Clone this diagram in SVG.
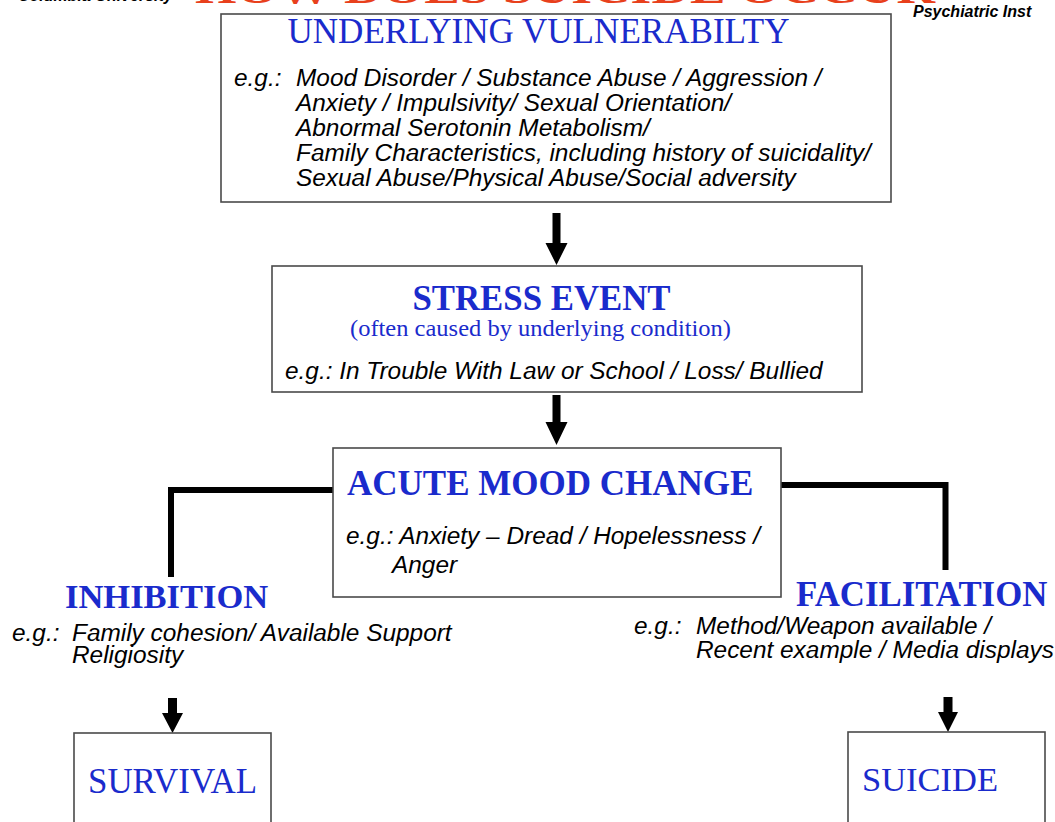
<svg xmlns="http://www.w3.org/2000/svg" width="1055" height="822" viewBox="0 0 1055 822">
<style>
.box{fill:#fff;stroke:#4a4a4a;stroke-width:1.6}
.title{font-family:"Liberation Serif","Times New Roman",serif;fill:#1a2bcc}
.b{font-weight:bold}
.body{font-family:"Liberation Sans",Arial,sans-serif;font-style:italic;font-size:24.4px;fill:#000}
.conn{fill:none;stroke:#000;stroke-width:6;stroke-linejoin:miter}
.arrow{fill:#000}
.hdr{font-family:"Liberation Sans",Arial,sans-serif;font-style:italic;font-weight:bold;font-size:16px;fill:#000}
</style>
<rect width="1055" height="822" fill="#fff"/>
<g id="header">
<text class="title b" x="195" y="3" font-size="40" style="fill:#e8401c" textLength="740" lengthAdjust="spacingAndGlyphs">HOW DOES SUICIDE OCCUR</text>
<text class="hdr" x="18" y="1">Columbia University</text>
<text class="hdr" x="913" y="17">Psychiatric Inst</text>
</g>
<g id="connectors">
<path class="arrow" d="M552.5,213 h8 v30 h7 l-11,22 l-11,-22 h7 z"/>
<path class="arrow" d="M552.5,395 h8 v27 h7 l-11,23 l-11,-23 h7 z"/>
<path class="conn" d="M333,490 H171 V577"/>
<path class="conn" d="M781,485 H945.5 V570"/>
<path class="arrow" d="M168,698 h9 v15 h6 l-10.5,20 l-10.5,-20 h6 z"/>
<path class="arrow" d="M943.5,697 h9 v15 h5.5 l-10,20 l-10,-20 h5.5 z"/>
</g>
<g id="underlying">
<rect class="box" x="221" y="14" width="670" height="188"/>
<text class="title" x="538.5" y="43" font-size="35.1" text-anchor="middle">UNDERLYING VULNERABILTY</text>
<text class="body" x="234" y="86">e.g.:</text>
<text class="body" x="296" y="86">Mood Disorder / Substance Abuse / Aggression /</text>
<text class="body" x="296" y="111">Anxiety / Impulsivity/ Sexual Orientation/</text>
<text class="body" x="296" y="136">Abnormal Serotonin Metabolism/</text>
<text class="body" x="296" y="161">Family Characteristics, including history of suicidality/</text>
<text class="body" x="296" y="186">Sexual Abuse/Physical Abuse/Social adversity</text>
</g>
<g id="stress">
<rect class="box" x="272" y="266" width="590" height="126"/>
<text class="title b" x="541.5" y="310" font-size="34.8" text-anchor="middle">STRESS EVENT</text>
<text class="title" x="540.5" y="336" font-size="24" text-anchor="middle" textLength="381" lengthAdjust="spacingAndGlyphs">(often caused by underlying condition)</text>
<text class="body" x="285" y="379">e.g.: In Trouble With Law or School / Loss/ Bullied</text>
</g>
<g id="acute">
<rect class="box" x="333" y="448" width="448" height="149"/>
<text class="title b" x="347" y="495" font-size="35">ACUTE MOOD CHANGE</text>
<text class="body" x="346" y="544">e.g.: Anxiety – Dread / Hopelessness /</text>
<text class="body" x="392" y="573">Anger</text>
</g>
<g id="inhibition">
<text class="title b" x="65" y="608" font-size="34.5">INHIBITION</text>
<text class="body" x="12" y="641">e.g.:</text>
<text class="body" x="72" y="641">Family cohesion/ Available Support</text>
<text class="body" x="72" y="663">Religiosity</text>
</g>
<g id="facilitation">
<text class="title b" x="796" y="606" font-size="34.8">FACILITATION</text>
<text class="body" x="634" y="634">e.g.:</text>
<text class="body" x="696" y="634">Method/Weapon available /</text>
<text class="body" x="696" y="658">Recent example / Media displays</text>
</g>
<g id="survival">
<rect class="box" x="74" y="733" width="197" height="100"/>
<text class="title" x="88" y="793" font-size="34.9">SURVIVAL</text>
</g>
<g id="suicide">
<rect class="box" x="848" y="732" width="197" height="100"/>
<text class="title" x="862" y="791" font-size="34.5">SUICIDE</text>
</g>
</svg>
